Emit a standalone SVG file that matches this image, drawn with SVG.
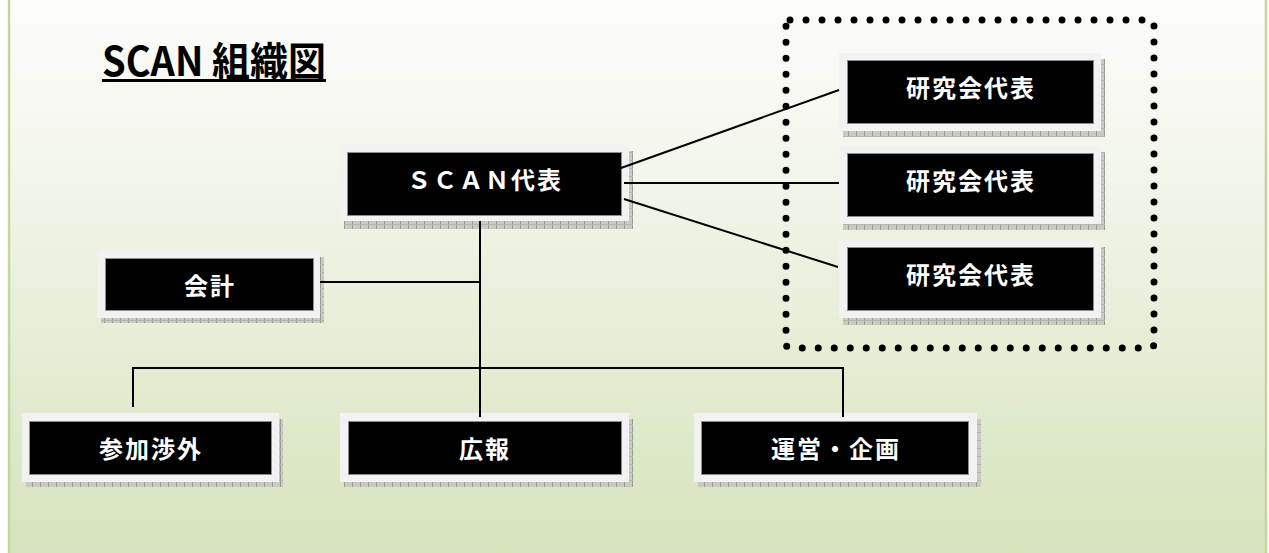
<svg xmlns="http://www.w3.org/2000/svg" width="1269" height="553" viewBox="0 0 1269 553">
  <style>
    .frame { fill: #f2f2f2; }
    .box { fill: #000000; stroke: #8c8c8c; stroke-width: 1; }
    .shadow { fill: url(#hatch); }
    .label { fill: #ffffff; font-family: "Noto Sans CJK JP", "Noto Sans CJK SC", sans-serif; font-size: 24px; font-weight: 700; letter-spacing: 2px; text-anchor: middle; dominant-baseline: central; }
    .conn { stroke: #000000; stroke-width: 2; fill: none; }
  </style>
  <defs>
    <linearGradient id="bg" x1="0" y1="0" x2="0" y2="1">
      <stop offset="0" stop-color="#fdfdfc"/>
      <stop offset="0.3" stop-color="#f3f6ec"/>
      <stop offset="1" stop-color="#d6e3bb"/>
    </linearGradient>
    <pattern id="hatch" width="8" height="8" patternUnits="userSpaceOnUse">
      <rect width="8" height="8" fill="#c9cbc2"/>
      <rect x="0" y="0" width="1" height="8" fill="#9a9c94"/>
      <rect x="0" y="0" width="8" height="1" fill="#b4b6ae"/>
    </pattern>
  </defs>

  <rect x="0" y="0" width="1269" height="553" fill="#ffffff"/>
  <rect x="9" y="-5" width="1257" height="563" fill="url(#bg)" stroke="#c3d69b" stroke-width="2.5"/>

  <g id="title">
    <text x="102" y="76" font-family="Noto Sans CJK JP, Noto Sans CJK SC, sans-serif" font-size="40" font-weight="bold" fill="#000000" textLength="224" lengthAdjust="spacingAndGlyphs">SCAN 組織図</text>
    <rect x="102" y="79" width="224" height="3" fill="#000000"/>
  </g>

  <g id="group-research">
    <rect x="786" y="20" width="368" height="328" rx="4" fill="none" stroke="#000000" stroke-width="7" stroke-linecap="round" stroke-dasharray="0 16"/>
  </g>

  <g id="node-scan">
    <rect class="shadow" x="344" y="151" width="289" height="78"/>
    <rect class="frame" x="340" y="145" width="289" height="76"/>
    <rect class="box" x="347.5" y="152.5" width="274" height="63"/>
    <text class="label" x="485" y="178">ＳＣＡＮ代表</text>
  </g>

  <g id="node-research-1">
    <rect class="shadow" x="843" y="59" width="262" height="78"/>
    <rect class="frame" x="839" y="53" width="262" height="78"/>
    <rect class="box" x="847.5" y="60.5" width="246" height="63"/>
    <text class="label" x="971" y="86">研究会代表</text>
  </g>

  <g id="node-research-2">
    <rect class="shadow" x="843" y="152" width="262" height="78"/>
    <rect class="frame" x="839" y="146" width="262" height="78"/>
    <rect class="box" x="847.5" y="153.5" width="246" height="63"/>
    <text class="label" x="971" y="179">研究会代表</text>
  </g>

  <g id="node-research-3">
    <rect class="shadow" x="843" y="247" width="262" height="78"/>
    <rect class="frame" x="839" y="241" width="262" height="77"/>
    <rect class="box" x="847.5" y="247.5" width="246" height="63"/>
    <text class="label" x="971" y="273">研究会代表</text>
  </g>

  <g id="node-kaikei">
    <rect class="shadow" x="101" y="257" width="223" height="66"/>
    <rect class="frame" x="97" y="251" width="223" height="67"/>
    <rect class="box" x="105.5" y="258.5" width="208" height="52"/>
    <text class="label" x="210" y="284">会計</text>
  </g>

  <g id="node-sanka">
    <rect class="shadow" x="26" y="419" width="257" height="68"/>
    <rect class="frame" x="22" y="413" width="257" height="69"/>
    <rect class="box" x="29.5" y="421.5" width="242" height="53"/>
    <text class="label" x="151" y="447">参加渉外</text>
  </g>

  <g id="node-kouhou">
    <rect class="shadow" x="344" y="419" width="289" height="68"/>
    <rect class="frame" x="340" y="413" width="289" height="69"/>
    <rect class="box" x="348.5" y="421.5" width="273" height="53"/>
    <text class="label" x="485" y="447">広報</text>
  </g>

  <g id="node-unei">
    <rect class="shadow" x="698" y="419" width="283" height="68"/>
    <rect class="frame" x="694" y="413" width="283" height="69"/>
    <rect class="box" x="701.5" y="421.5" width="267" height="53"/>
    <text class="label" x="836" y="447">運営・企画</text>
  </g>

  <g id="connectors">
    <line class="conn" x1="621" y1="168" x2="839" y2="90"/>
    <line class="conn" x1="624" y1="183" x2="839" y2="183"/>
    <line class="conn" x1="624" y1="199" x2="838" y2="267"/>
    <line class="conn" x1="480" y1="221" x2="480" y2="417"/>
    <line class="conn" x1="320" y1="282" x2="480" y2="282"/>
    <polyline class="conn" points="133,407 133,368 843,368 843,417"/>
  </g>
</svg>
